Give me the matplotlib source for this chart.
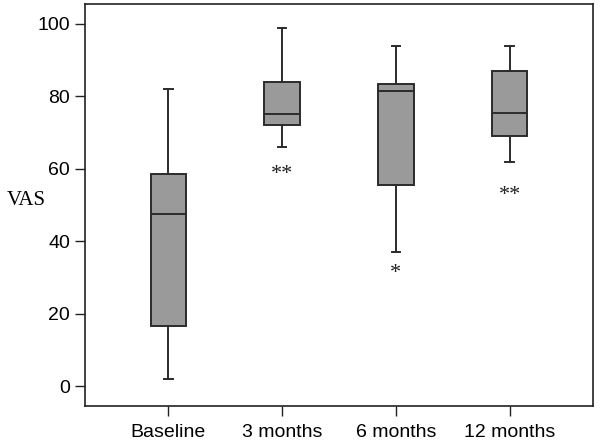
import matplotlib
matplotlib.use("Agg")
import matplotlib.pyplot as plt

# values
groups = ["Baseline", "3 months", "6 months", "12 months"]
whisker_low = [2, 66, 37, 62]
q1 = [16.5, 72, 55.5, 69]
median = [47.5, 75, 81.5, 75.5]
q3 = [58.5, 84, 83.5, 87]
whisker_high = [82, 99, 94, 94]

# significance marks under some boxes
marks = ["", "**", "*", "**"]
mark_y = [None, 58.5, 31, 52.5]

yticks = [0, 20, 40, 60, 80, 100]

fig = plt.figure(figsize=(6, 4.4), dpi=100)
ax = fig.add_axes([0.142, 0.077, 0.846, 0.914])

stats = []
for i in range(len(groups)):
    stats.append({
        "label": groups[i],
        "whislo": whisker_low[i],
        "q1": q1[i],
        "med": median[i],
        "q3": q3[i],
        "whishi": whisker_high[i],
        "fliers": [],
    })

line_col = "#2b2b2b"
positions = list(range(1, len(groups) + 1))
ax.bxp(stats, positions=positions, widths=0.31, patch_artist=True, showfliers=False,
       boxprops=dict(facecolor="#9a9a9a", edgecolor=line_col, linewidth=1.4),
       medianprops=dict(color=line_col, linewidth=1.4),
       whiskerprops=dict(color=line_col, linewidth=1.4),
       capprops=dict(color=line_col, linewidth=1.4),
       capwidths=0.075)

for p, m, y in zip(positions, marks, mark_y):
    if m:
        ax.text(p, y, m, ha="center", va="center", fontsize=16,
                family="Liberation Serif", color="#222222")

ax.set_xlim(0.27, 4.73)
ax.set_ylim(-5.5, 105.5)
ax.set_yticks(yticks)
ax.set_xticks(positions)
ax.set_xticklabels(groups)

for lbl in ax.get_xticklabels() + ax.get_yticklabels():
    lbl.set_family("Liberation Sans")
    lbl.set_fontsize(14)
ax.tick_params(direction="out", length=7, width=1, color="#222222", pad=4)
ax.tick_params(axis="x", pad=6)
for s in ax.spines.values():
    s.set_linewidth(1.2)
    s.set_color("#222222")

fig.text(0.011, 1 - 200 / 440, "VAS", ha="left", va="center", fontsize=15,
         family="Liberation Serif")

fig.savefig("out.png", dpi=100)
